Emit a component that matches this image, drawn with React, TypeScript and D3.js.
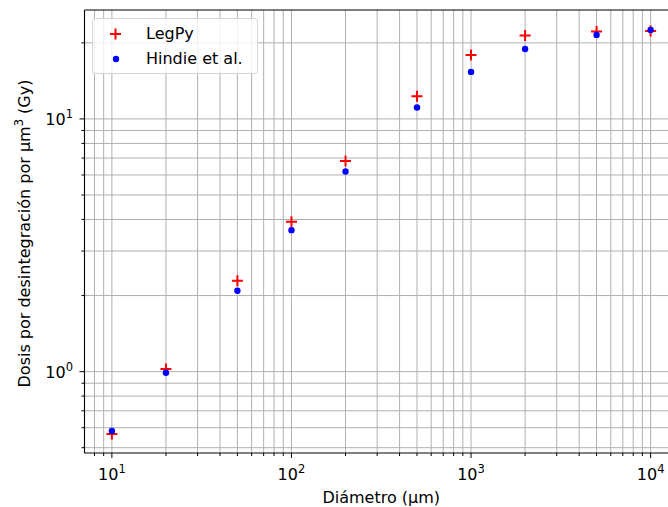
import { useEffect, useRef } from 'react'
import * as d3 from 'd3'

const diameters = [10, 20, 50, 100, 200, 500, 1000, 2000, 5000, 10000]
const legpyDose = [0.567, 1.025, 2.29, 3.92, 6.82, 12.3, 17.9, 21.4, 22.2, 22.3]
const hindieDose = [0.582, 0.99, 2.09, 3.63, 6.19, 11.1, 15.35, 18.9, 21.5, 22.5]
const seriesNames = ['LegPy', 'Hindie et al.']

const xMajor = [10, 100, 1000, 10000]
const yMajor = [1, 10]

function minorTicks(lo: number, hi: number, majors: number[]) {
  const out: number[] = []
  for (let e = -2; e <= 5; e++) {
    for (let m = 2; m <= 9; m++) {
      const v = m * Math.pow(10, e)
      if (v >= lo && v <= hi && !majors.includes(v)) out.push(v)
    }
  }
  return out
}

export default function App() {
  const ref = useRef<SVGSVGElement | null>(null)

  useEffect(() => {
    if (!ref.current) return
    const margin = { top: 10, left: 84.5, bottom: 453, right: 678 }
    const font = 'DejaVu Sans, sans-serif'
    const fs = 16

    const svg = d3.select(ref.current)
    svg.selectAll('*').remove()

    const x = d3
      .scaleLog()
      .domain([Math.pow(10, 0.8475), Math.pow(10, 4.1525)])
      .range([margin.left, margin.right])
    const y = d3
      .scaleLog()
      .domain([Math.pow(10, -0.322), Math.pow(10, 1.431)])
      .range([margin.bottom, margin.top])

    const xMinor = minorTicks(x.domain()[0], x.domain()[1], xMajor)
    const yMinor = minorTicks(y.domain()[0], y.domain()[1], yMajor)

    // grid, major and minor
    const grid = svg.append('g').attr('stroke', '#b0b0b0').attr('stroke-width', 1)
    grid
      .selectAll('line.vx')
      .data([...xMajor, ...xMinor])
      .join('line')
      .attr('class', 'vx')
      .attr('x1', (d) => x(d))
      .attr('x2', (d) => x(d))
      .attr('y1', margin.top)
      .attr('y2', margin.bottom)
    grid
      .selectAll('line.hy')
      .data([...yMajor, ...yMinor])
      .join('line')
      .attr('class', 'hy')
      .attr('x1', margin.left)
      .attr('x2', margin.right)
      .attr('y1', (d) => y(d))
      .attr('y2', (d) => y(d))

    // LegPy: red plus
    svg
      .append('g')
      .selectAll('path')
      .data(diameters.map((d, i) => [d, legpyDose[i]]))
      .join('path')
      .attr('d', (d) => {
        const cx = x(d[0])
        const cy = y(d[1])
        return `M${cx - 5.5},${cy}H${cx + 5.5}M${cx},${cy - 5.5}V${cy + 5.5}`
      })
      .attr('stroke', 'red')
      .attr('stroke-width', 2)
      .attr('fill', 'none')

    // Hindie: blue dots
    svg
      .append('g')
      .selectAll('circle')
      .data(diameters.map((d, i) => [d, hindieDose[i]]))
      .join('circle')
      .attr('cx', (d) => x(d[0]))
      .attr('cy', (d) => y(d[1]))
      .attr('r', 3.2)
      .attr('fill', 'blue')

    // spines
    const spine = svg.append('g').attr('stroke', 'black').attr('stroke-width', 1.1)
    spine.append('line').attr('x1', margin.left).attr('x2', margin.left).attr('y1', margin.top).attr('y2', margin.bottom)
    spine.append('line').attr('x1', margin.left).attr('x2', margin.right).attr('y1', margin.top).attr('y2', margin.top)
    spine.append('line').attr('x1', margin.left).attr('x2', margin.right).attr('y1', margin.bottom).attr('y2', margin.bottom)
    spine.append('line').attr('x1', margin.right).attr('x2', margin.right).attr('y1', margin.top).attr('y2', margin.bottom)

    // ticks
    const ticks = svg.append('g').attr('stroke', 'black').attr('stroke-width', 1)
    xMajor.forEach((v) => ticks.append('line').attr('x1', x(v)).attr('x2', x(v)).attr('y1', margin.bottom).attr('y2', margin.bottom + 5))
    xMinor.forEach((v) => ticks.append('line').attr('x1', x(v)).attr('x2', x(v)).attr('y1', margin.bottom).attr('y2', margin.bottom + 3))
    yMajor.forEach((v) => ticks.append('line').attr('x1', margin.left - 5).attr('x2', margin.left).attr('y1', y(v)).attr('y2', y(v)))
    yMinor.forEach((v) => ticks.append('line').attr('x1', margin.left - 3).attr('x2', margin.left).attr('y1', y(v)).attr('y2', y(v)))

    const powLabel = (g: any, v: number) => {
      g.append('tspan').text('10')
      g.append('tspan').attr('font-size', 11.5).attr('dy', -7).text(String(Math.round(Math.log10(v))))
    }

    xMajor.forEach((v) => {
      const t = svg
        .append('text')
        .attr('x', x(v))
        .attr('y', 480)
        .attr('text-anchor', 'middle')
        .attr('font-family', font)
        .attr('font-size', fs)
        .attr('fill', 'black')
      powLabel(t, v)
    })
    yMajor.forEach((v) => {
      const t = svg
        .append('text')
        .attr('x', 73)
        .attr('y', y(v) + 6)
        .attr('text-anchor', 'end')
        .attr('font-family', font)
        .attr('font-size', fs)
        .attr('fill', 'black')
      powLabel(t, v)
    })

    // axis titles
    svg
      .append('text')
      .attr('x', (margin.left + margin.right) / 2)
      .attr('y', 503)
      .attr('text-anchor', 'middle')
      .attr('font-family', font)
      .attr('font-size', fs)
      .text('Diámetro (µm)')

    const yl = svg
      .append('text')
      .attr('transform', `translate(30,${(margin.top + margin.bottom) / 2 + 2}) rotate(-90)`)
      .attr('text-anchor', 'middle')
      .attr('font-family', font)
      .attr('font-size', fs)
    yl.append('tspan').text('Dosis por desintegración por µm')
    yl.append('tspan').attr('font-size', 11.5).attr('dy', -7).text('3')
    yl.append('tspan').attr('dy', 7).text(' (Gy)')

    // legend
    const lg = svg.append('g')
    lg.append('rect')
      .attr('x', 92.5)
      .attr('y', 18.5)
      .attr('width', 165)
      .attr('height', 55)
      .attr('rx', 3)
      .attr('fill', 'white')
      .attr('fill-opacity', 0.8)
      .attr('stroke', '#d5d5d5')
    lg.append('path')
      .attr('d', 'M110,34H121M115.5,28.5V39.5')
      .attr('stroke', 'red')
      .attr('stroke-width', 2)
    lg.append('circle').attr('cx', 116).attr('cy', 59).attr('r', 3.2).attr('fill', 'blue')
    seriesNames.forEach((name, i) => {
      lg.append('text')
        .attr('x', 146)
        .attr('y', 39 + i * 25)
        .attr('font-family', font)
        .attr('font-size', fs)
        .attr('fill', 'black')
        .text(name)
    })
  }, [])

  return (
    <svg
      ref={ref}
      width={668}
      height={507}
      style={{ position: 'absolute', left: 0, top: 0, background: 'white', overflow: 'hidden' }}
    />
  )
}
